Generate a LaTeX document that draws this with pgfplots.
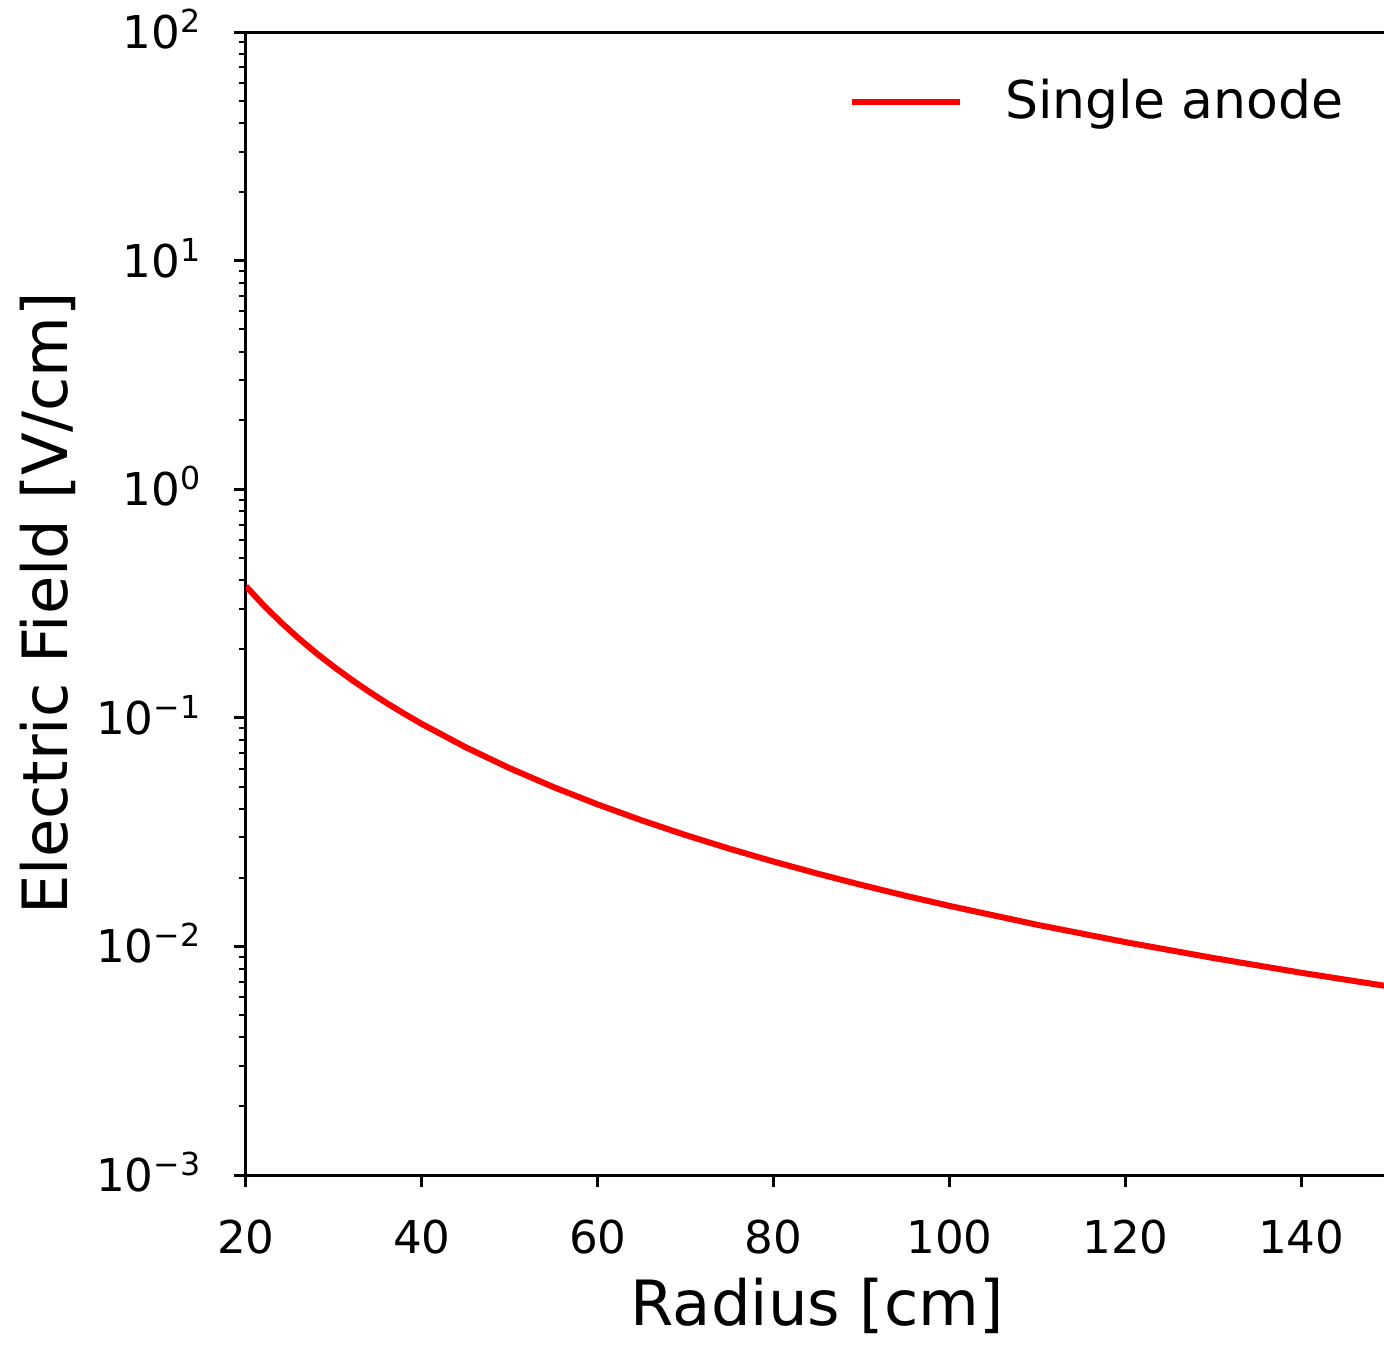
\documentclass[border=0pt]{standalone}
\usepackage{fontspec}
\setmainfont{DejaVu Sans}
\usepackage{pgfplots}
\pgfplotsset{compat=1.18}

\begin{document}
\begin{tikzpicture}
\begin{axis}[
    scale only axis,
    width=284.5pt,
    height=285.75pt,
    xmin=20, xmax=149.4,
    ymode=log,
    ymin=1e-3, ymax=1e2,
    axis x line*=box,
    axis y line*=left,
    axis line style={-, line width=0.75pt, black},
    tick align=outside,
    xtick pos=bottom,
    ytick pos=left,
    xtick={20,40,60,80,100,120,140},
    ytick={1e-3,1e-2,1e-1,1,1e1,1e2},
    yticklabels={10\textsuperscript{−3},10\textsuperscript{−2},10\textsuperscript{−1},10\textsuperscript{0},10\textsuperscript{1},10\textsuperscript{2}},
    minor ytick={2e-3,3e-3,4e-3,5e-3,6e-3,7e-3,8e-3,9e-3,
                 2e-2,3e-2,4e-2,5e-2,6e-2,7e-2,8e-2,9e-2,
                 2e-1,3e-1,4e-1,5e-1,6e-1,7e-1,8e-1,9e-1,
                 2,3,4,5,6,7,8,9,20,30,40,50,60,70,80,90},
    major tick length=3pt,
    minor tick length=1.75pt,
    every major tick/.append style={line width=0.75pt, black},
    every minor tick/.append style={line width=0.5pt, black},
    /pgf/number format/assume math mode=true,
    tick label style={font=\fontsize{11.3}{13}\selectfont},
    xticklabel style={anchor=base, inner sep=0pt, yshift=-16.7pt},
    yticklabel style={anchor=base east, inner sep=0pt, xshift=-7.7pt, yshift=-4.1pt},
    xlabel={Radius [cm]},
    ylabel={Electric Field [V/cm]},
    xlabel style={font=\fontsize{15.6}{19}\selectfont, anchor=base, inner sep=0pt,
                  at={([yshift=-37.5pt]axis description cs:0.502,0)}},
    ylabel style={font=\fontsize{15.6}{19}\selectfont, anchor=base, inner sep=0pt,
                  at={([xshift=-44.5pt]axis description cs:0,0.5)}},
    legend style={draw=none, fill=none, inner sep=0pt, column sep=10.5pt,
                  font=\fontsize{13}{15}\selectfont,
                  nodes={inner sep=0pt},
                  at={([xshift=-10pt, yshift=-17.5pt]axis description cs:1,1)},
                  anchor=east},
    legend image code/.code={\draw[#1] (0pt,0pt) -- (27pt,0pt);},
]
\addplot[red, line width=1.5pt] coordinates {
    (20,0.3760) (22,0.3107) (24,0.2611) (26,0.2225) (28,0.1918)
    (30,0.1671) (32,0.1469) (34,0.1301) (36,0.1160) (38,0.1042)
    (40,0.0940) (45,0.07427) (50,0.06016) (55,0.04972) (60,0.04178)
    (65,0.03560) (70,0.03069) (75,0.02674) (80,0.02350) (85,0.02082)
    (90,0.01857) (95,0.01666) (100,0.01504) (110,0.01243) (120,0.01044)
    (130,0.00890) (140,0.00767) (150,0.00668)
};
\addlegendentry{Single anode}
\coordinate (ll) at (rel axis cs:0,0);
\coordinate (ur) at (rel axis cs:1,1);
\end{axis}
\pgfresetboundingbox
\useasboundingbox ([xshift=-61.5pt, yshift=-42.5pt]ll) rectangle ([yshift=8pt]ur);
\end{tikzpicture}
\end{document}
